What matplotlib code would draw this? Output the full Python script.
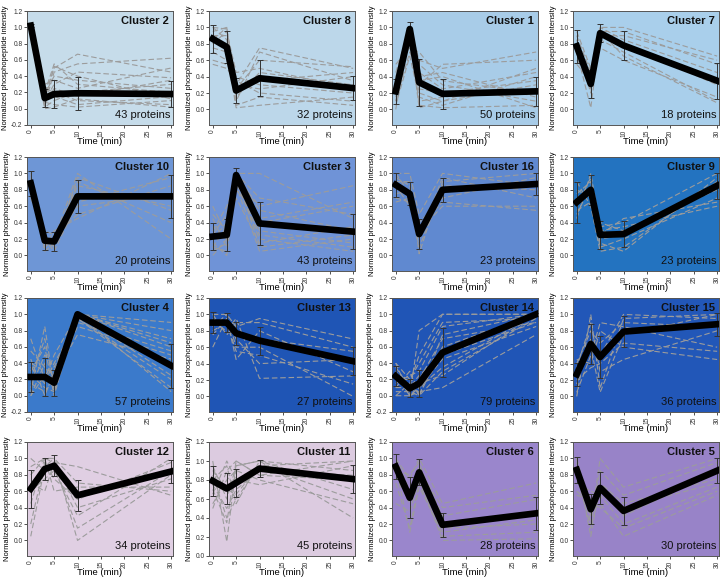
import numpy as np
import matplotlib
matplotlib.use("Agg")
import matplotlib.pyplot as plt

plt.rcParams['font.family'] = ['Liberation Sans', 'DejaVu Sans']

# time points (min)
times = [0, 3, 5, 10, 30]

# panel order, row by row
cluster_ids = [2, 8, 1, 7, 10, 3, 16, 9, 4, 13, 14, 15, 12, 11, 6, 5]
protein_counts = [43, 32, 50, 18, 20, 43, 23, 23, 57, 27, 79, 36, 34, 45, 28, 30]

# cluster mean profiles
means = [
    [1.02, 0.13, 0.18, 0.19, 0.18],
    [0.86, 0.76, 0.23, 0.38, 0.26],
    [0.22, 0.98, 0.33, 0.19, 0.22],
    [0.77, 0.31, 0.93, 0.78, 0.35],
    [0.88, 0.18, 0.17, 0.72, 0.72],
    [0.23, 0.25, 0.98, 0.39, 0.29],
    [0.86, 0.75, 0.26, 0.80, 0.87],
    [0.65, 0.80, 0.25, 0.26, 0.85],
    [0.23, 0.23, 0.16, 1.00, 0.37],
    [0.90, 0.90, 0.77, 0.68, 0.43],
    [0.24, 0.09, 0.15, 0.53, 1.00],
    [0.27, 0.64, 0.48, 0.79, 0.88],
    [0.63, 0.87, 0.91, 0.55, 0.84],
    [0.79, 0.71, 0.77, 0.92, 0.81],
    [0.90, 0.52, 0.83, 0.19, 0.33],
    [0.86, 0.38, 0.64, 0.36, 0.85],
]

# standard deviations (error bars)
sds = [
    [0.02, 0.11, 0.17, 0.20, 0.16],
    [0.17, 0.20, 0.15, 0.22, 0.15],
    [0.15, 0.09, 0.29, 0.18, 0.18],
    [0.20, 0.17, 0.11, 0.18, 0.22],
    [0.15, 0.11, 0.12, 0.20, 0.26],
    [0.17, 0.20, 0.09, 0.26, 0.21],
    [0.15, 0.14, 0.18, 0.15, 0.13],
    [0.25, 0.18, 0.17, 0.16, 0.16],
    [0.18, 0.23, 0.16, 0.02, 0.27],
    [0.13, 0.12, 0.14, 0.17, 0.17],
    [0.12, 0.11, 0.16, 0.30, 0.02],
    [0.14, 0.24, 0.26, 0.19, 0.14],
    [0.23, 0.13, 0.13, 0.19, 0.14],
    [0.16, 0.16, 0.15, 0.09, 0.15],
    [0.15, 0.25, 0.16, 0.15, 0.20],
    [0.16, 0.18, 0.19, 0.17, 0.15],
]

# some of the individual protein profiles (gray dashed)
c2_profiles = [
    [1.0, 0.15, 0.5, 0.67, 0.45], [1.0, 0.05, 0.45, 0.55, 0.62],
    [1.0, 0.2, 0.55, 0.3, 0.2], [0.95, 0.1, 0.3, 0.45, 0.38],
    [1.0, 0.02, 0.1, 0.2, 0.3], [1.0, 0.25, 0.2, 0.1, 0.05],
    [0.98, 0.08, 0.05, 0.02, 0.1], [1.0, 0.3, 0.35, 0.25, 0.5],
    [1.0, 0.12, 0.15, 0.05, 0.15], [0.9, 0.0, 0.02, 0.12, 0.02],
    [1.0, 0.18, 0.4, 0.35, 0.25], [0.97, 0.05, 0.25, 0.15, 0.35],
    [1.0, 0.1, 0.52, 0.4, 0.12],
]
c8_profiles = [
    [1.0, 0.98, 0.3, 0.75, 0.5], [0.95, 1.0, 0.1, 0.7, 0.35],
    [0.8, 0.95, 0.45, 0.5, 0.25], [0.7, 0.6, 0.2, 0.35, 0.45],
    [0.55, 0.5, 0.35, 0.2, 0.1], [0.9, 0.75, 0.05, 0.15, 0.05],
    [1.0, 0.85, 0.25, 0.6, 0.52], [0.6, 0.55, 0.4, 0.3, 0.2],
    [0.85, 1.0, 0.15, 0.45, 0.3], [0.75, 0.7, 0.02, 0.05, 0.15],
    [0.9, 0.9, 0.3, 0.25, 0.4],
]
c1_profiles = [
    [0.1, 1.0, 0.6, 0.5, 0.7], [0.4, 0.9, 0.3, 0.55, 0.6],
    [0.0, 0.95, 0.2, 0.1, 0.3], [0.55, 0.75, 0.7, 0.35, 0.2],
    [0.25, 1.0, 0.05, 0.02, 0.05], [0.3, 0.8, 0.45, 0.25, 0.45],
    [0.05, 0.65, 0.15, 0.05, 0.4], [0.2, 1.0, 0.55, 0.3, 0.1],
    [0.35, 0.85, 0.1, 0.15, 0.25], [0.15, 0.95, 0.35, 0.4, 0.02],
    [0.45, 1.0, 0.25, 0.2, 0.35], [0.1, 0.7, 0.4, 0.45, 0.15],
    [0.3, 0.9, 0.02, 0.1, 0.5],
]
c7_profiles = [
    [0.95, 0.5, 1.0, 1.0, 0.65], [0.8, 0.2, 0.95, 0.95, 0.55],
    [0.6, 0.4, 0.85, 0.7, 0.1], [0.7, 0.02, 0.9, 0.8, 0.3],
    [0.55, 0.35, 0.75, 0.6, 0.15], [0.9, 0.45, 1.0, 0.85, 0.45],
    [0.75, 0.25, 0.95, 0.65, 0.08], [0.85, 0.3, 0.9, 0.9, 0.6],
]
c10_profiles = [
    [0.9, 0.15, 0.2, 1.0, 0.2], [0.7, 0.25, 0.1, 0.95, 0.55],
    [1.0, 0.1, 0.3, 0.45, 1.0], [0.8, 0.2, 0.05, 0.65, 0.95],
    [0.95, 0.05, 0.15, 0.85, 0.6], [0.85, 0.3, 0.25, 0.5, 0.85],
    [0.75, 0.2, 0.12, 0.9, 0.4], [0.9, 0.1, 0.2, 0.6, 0.75],
]
c3_profiles = [
    [0.5, 0.3, 1.0, 1.0, 0.45], [0.1, 0.05, 0.95, 0.6, 0.85],
    [0.3, 0.6, 0.9, 0.2, 0.05], [0.0, 0.2, 1.0, 0.4, 0.6],
    [0.45, 0.1, 0.85, 0.05, 0.2], [0.2, 0.4, 1.0, 0.55, 0.3],
    [0.15, 0.0, 0.95, 0.3, 0.15], [0.6, 0.25, 0.7, 0.15, 0.35],
    [0.25, 0.5, 1.0, 0.7, 0.5], [0.05, 0.15, 0.9, 0.25, 0.1],
    [0.35, 0.2, 0.8, 0.45, 0.65], [0.1, 0.35, 1.0, 0.1, 0.25],
]
c16_profiles = [
    [1.0, 1.0, 0.5, 1.0, 0.85], [0.7, 0.65, 0.1, 0.8, 0.9],
    [0.95, 0.85, 0.3, 0.6, 0.6], [0.65, 0.7, 0.2, 0.95, 0.7],
    [0.85, 0.6, 0.4, 0.7, 0.95], [0.9, 0.9, 0.02, 0.9, 1.0],
    [0.75, 0.8, 0.35, 0.65, 0.55], [1.0, 0.75, 0.25, 0.85, 0.8],
]
c9_profiles = [
    [0.45, 1.0, 0.35, 0.4, 1.0], [0.8, 0.7, 0.1, 0.2, 0.7],
    [0.6, 0.95, 0.25, 0.45, 0.65], [0.9, 0.6, 0.05, 0.1, 0.9],
    [0.5, 0.85, 0.4, 0.3, 0.8], [0.7, 0.75, 0.15, 0.05, 0.95],
    [0.75, 0.9, 0.3, 0.35, 0.6], [0.55, 0.65, 0.2, 0.25, 0.85],
]
c4_profiles = [
    [0.05, 0.85, 0.1, 1.0, 0.05], [0.45, 0.0, 0.3, 1.0, 0.9],
    [0.0, 0.4, 0.05, 0.95, 0.2], [0.7, 0.2, 0.5, 1.0, 0.6],
    [0.3, 0.6, 0.0, 1.0, 0.35], [0.15, 0.05, 0.2, 0.85, 0.5],
    [0.4, 0.3, 0.15, 1.0, 0.7], [0.1, 0.5, 0.35, 0.95, 0.1],
    [0.25, 0.1, 0.05, 1.0, 0.8], [0.55, 0.35, 0.25, 0.75, 0.45],
    [0.2, 0.7, 0.1, 1.0, 0.25], [0.35, 0.15, 0.4, 0.9, 0.55],
    [0.0, 0.25, 0.2, 1.0, 0.65],
]
c13_profiles = [
    [1.0, 1.0, 0.85, 0.95, 0.7], [0.75, 0.95, 0.45, 0.8, 0.3],
    [0.9, 0.8, 0.95, 0.22, 0.25], [0.85, 1.0, 0.6, 0.6, 0.0],
    [0.95, 0.85, 0.75, 0.7, 0.55], [0.8, 0.9, 0.55, 0.5, 0.15],
    [1.0, 0.75, 0.9, 0.9, 0.6], [0.6, 0.95, 0.7, 0.4, 0.45],
]
c14_profiles = [
    [0.4, 0.0, 0.8, 1.0, 1.0], [0.1, 0.3, 0.0, 0.3, 0.95],
    [0.3, 0.05, 0.2, 0.7, 0.9], [0.0, 0.15, 0.5, 1.0, 1.0],
    [0.25, 0.0, 0.05, 0.1, 0.75], [0.15, 0.25, 0.3, 0.85, 1.0],
    [0.35, 0.1, 0.1, 0.45, 0.85], [0.05, 0.05, 0.0, 0.6, 1.0],
    [0.2, 0.2, 0.4, 0.9, 0.95], [0.3, 0.0, 0.15, 0.25, 1.0],
    [0.1, 0.1, 0.25, 0.5, 0.9], [0.4, 0.2, 0.0, 0.75, 1.0],
    [0.0, 0.0, 0.1, 0.35, 1.0],
]
c15_profiles = [
    [0.0, 1.0, 0.1, 0.95, 1.0], [0.45, 0.4, 0.8, 0.6, 0.45],
    [0.15, 0.7, 0.5, 1.0, 0.95], [0.35, 0.9, 0.3, 0.45, 0.8],
    [0.05, 0.5, 0.9, 0.85, 0.6], [0.3, 0.6, 0.05, 0.75, 1.0],
    [0.4, 0.8, 0.65, 0.9, 0.85], [0.2, 0.35, 0.4, 0.65, 0.55],
]
c12_profiles = [
    [0.9, 1.0, 0.95, 0.9, 0.55], [0.05, 0.9, 1.0, 0.0, 0.8],
    [0.6, 0.75, 0.85, 0.3, 1.0], [0.45, 1.0, 0.6, 0.65, 0.65],
    [1.0, 0.85, 0.9, 0.15, 0.85], [0.2, 0.95, 0.75, 0.5, 0.95],
    [0.8, 1.0, 1.0, 0.7, 0.6], [0.7, 0.6, 0.95, 0.4, 0.75],
]
c11_profiles = [
    [1.0, 0.15, 0.95, 1.0, 0.4], [0.5, 0.9, 1.0, 0.85, 1.0],
    [0.85, 0.4, 0.6, 0.95, 0.6], [0.65, 1.0, 0.8, 0.75, 0.95],
    [0.95, 0.6, 0.95, 1.0, 0.7], [0.75, 0.5, 0.7, 0.9, 0.85],
    [0.55, 0.8, 0.9, 0.8, 0.55], [0.9, 0.7, 0.65, 0.95, 1.0],
    [0.7, 0.35, 1.0, 0.85, 0.8], [0.8, 0.95, 0.55, 1.0, 0.9],
]
c6_profiles = [
    [1.0, 0.75, 1.0, 0.45, 0.7], [0.7, 0.15, 0.7, 0.05, 0.1],
    [0.95, 0.5, 0.9, 0.3, 0.5], [0.45, 0.35, 0.75, 0.0, 0.02],
    [0.85, 0.8, 0.95, 0.2, 0.35], [0.9, 0.1, 0.65, 0.1, 0.25],
    [1.0, 0.6, 0.85, 0.4, 0.55], [0.8, 0.45, 0.8, 0.15, 0.2],
]
c5_profiles = [
    [1.0, 0.2, 1.0, 0.65, 1.0], [0.55, 0.5, 0.45, 0.05, 0.55],
    [0.95, 0.05, 0.7, 0.45, 0.75], [0.7, 0.6, 0.55, 0.2, 0.65],
    [0.85, 0.3, 0.85, 0.55, 0.95], [0.6, 0.45, 0.4, 0.15, 0.6],
    [1.0, 0.35, 0.65, 0.3, 0.85], [0.8, 0.15, 0.6, 0.4, 0.7],
]
profiles = [c2_profiles, c8_profiles, c1_profiles, c7_profiles,
            c10_profiles, c3_profiles, c16_profiles, c9_profiles,
            c4_profiles, c13_profiles, c14_profiles, c15_profiles,
            c12_profiles, c11_profiles, c6_profiles, c5_profiles]

# panel background colours
bg_colors = ['#c6dcea', '#bcd7ea', '#a8cce8', '#a9cfeb',
             '#6e96d6', '#6f93d7', '#6089d0', '#2373c0',
             '#3b7acb', '#1f55b5', '#2055b6', '#2257b8',
             '#e0cfe3', '#dccbe0', '#9a86cc', '#9883c8']

fig = plt.figure(figsize=(7.2, 5.77), dpi=100)
W, H = 720.0, 577.0
lefts = [27, 209, 392, 573]
tops = [11, 157, 298, 442]
aw, ah = 146, 114

for i, cid in enumerate(cluster_ids):
    r, c = divmod(i, 4)
    ax = fig.add_axes([lefts[c] / W, 1 - (tops[r] + ah) / H, aw / W, ah / H])
    ax.set_facecolor(bg_colors[i])
    for p in profiles[i]:
        ax.plot(times, p, color='#9c9c9c', lw=0.8, ls=(0, (5, 2.5)), zorder=2)
    ax.errorbar(times, means[i], yerr=sds[i], color='black', lw=4.8,
                ecolor='#333333', elinewidth=0.7, capsize=2.5, capthick=0.7,
                zorder=4)
    ax.set_xlim(-0.8, 30.4)
    if cid == 11:
        ax.set_ylim(0, 1.2)
        ax.set_yticks(np.arange(0, 1.21, 0.2))
    elif cid in (2, 4, 14):
        ax.set_ylim(-0.2, 1.2)
        ax.set_yticks(np.arange(-0.2, 1.21, 0.2))
    else:
        ax.set_ylim(-0.19, 1.2)
        ax.set_yticks(np.arange(0, 1.21, 0.2))
    ax.set_yticklabels(['%.1f' % t for t in ax.get_yticks()])
    ax.set_xticks([0, 5, 10, 15, 20, 25, 30])
    ax.tick_params(axis='both', labelsize=4.8, length=2, width=0.6,
                   pad=1.2, colors='#333333')
    ax.tick_params(axis='x', labelrotation=90)
    for s in ax.spines.values():
        s.set_color('#555555')
        s.set_linewidth(0.7)
    ax.set_xlabel('Time (min)', fontsize=6.8, labelpad=0.2)
    ax.set_ylabel('Normalized phosphopeptide intensity', fontsize=5.4,
                  labelpad=1.5)
    ax.text(0.97, 0.91, 'Cluster %d' % cid, transform=ax.transAxes,
            ha='right', va='center', fontsize=8, fontweight='bold',
            color='#111111', zorder=6)
    ax.text(0.98, 0.04, '%d proteins' % protein_counts[i],
            transform=ax.transAxes, ha='right', va='bottom', fontsize=8,
            color='#111111', zorder=6)

fig.savefig('out.png', dpi=100)
